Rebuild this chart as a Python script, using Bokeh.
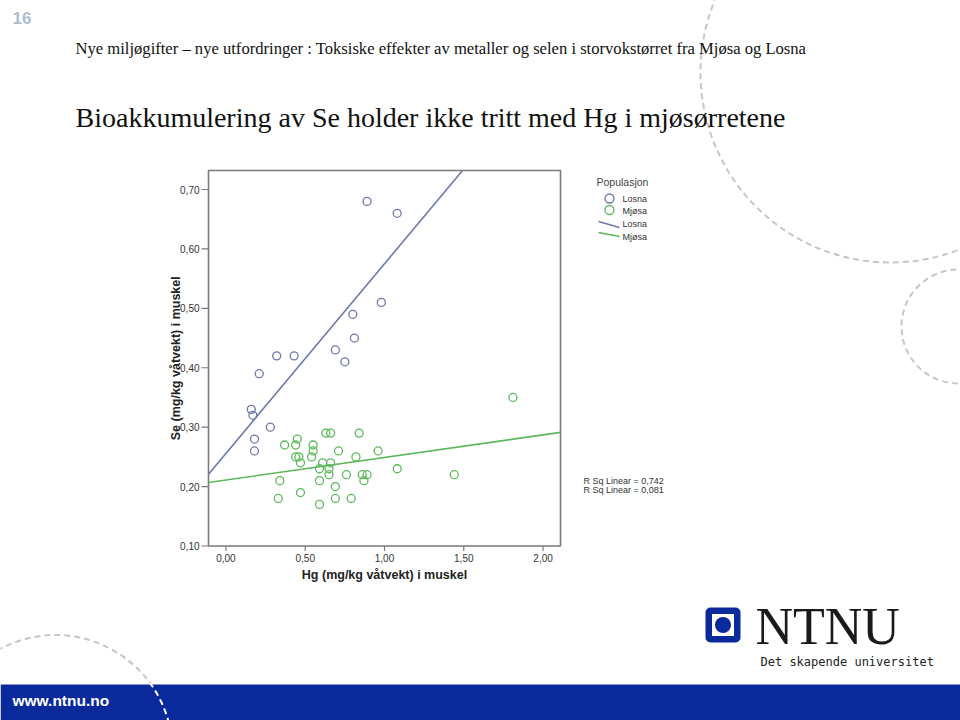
import numpy as np
from bokeh.plotting import figure
from bokeh.models import Range1d
from bokeh.core.properties import value
from bokeh.embed import file_html
from bokeh.resources import INLINE

# ---------------- data ----------------
LOSNA_HG = [0.89, 1.08, 0.98, 0.80, 0.81, 0.69, 0.75, 0.32, 0.43, 0.21, 0.16, 0.17, 0.28, 0.18, 0.18]
LOSNA_SE = [0.68, 0.66, 0.51, 0.49, 0.45, 0.43, 0.41, 0.42, 0.42, 0.39, 0.33, 0.32, 0.30, 0.28, 0.26]

MJOSA_HG = [1.81, 0.37, 0.45, 0.44, 0.55, 0.55, 0.54, 0.44, 0.46, 0.47, 0.63, 0.66, 0.84, 0.71,
            0.96, 0.82, 0.61, 0.66, 0.59, 0.65, 1.08, 1.44, 0.65, 0.76, 0.86, 0.89, 0.87, 0.59,
            0.34, 0.69, 0.33, 0.47, 0.69, 0.79, 0.59]
MJOSA_SE = [0.35, 0.27, 0.28, 0.27, 0.27, 0.26, 0.25, 0.25, 0.25, 0.24, 0.29, 0.29, 0.29, 0.26,
            0.26, 0.25, 0.24, 0.24, 0.23, 0.23, 0.23, 0.22, 0.22, 0.22, 0.22, 0.22, 0.21, 0.21,
            0.21, 0.20, 0.18, 0.19, 0.18, 0.18, 0.17]

FIT_NAMES = ["Losna", "Mjøsa"]
FIT_INTERCEPT = [0.256, 0.211]
FIT_SLOPE = [0.319, 0.038]
R2_TEXT = ["R Sq Linear = 0,742", "R Sq Linear = 0,081"]

X_TICKS = [0.0, 0.5, 1.0, 1.5, 2.0]
X_TICK_LABELS = ["0,00", "0,50", "1,00", "1,50", "2,00"]
Y_TICKS = [0.1, 0.2, 0.3, 0.4, 0.5, 0.6, 0.7]
Y_TICK_LABELS = ["0,10", "0,20", "0,30", "0,40", "0,50", "0,60", "0,70"]

X_TITLE = "Hg (mg/kg våtvekt) i muskel"
Y_TITLE = "Se (mg/kg våtvekt) i muskel"
LEGEND_TITLE = "Populasjon"
SLIDE_NO = "16"
SUBTITLE = "Nye miljøgifter – nye utfordringer : Toksiske effekter av metaller og selen i storvokstørret fra Mjøsa og Losna"
TITLE = "Bioakkumulering av Se holder ikke tritt med Hg i mjøsørretene"
FOOTER = "www.ntnu.no"
LOGO_TEXT = "NTNU"
LOGO_SUB = "Det skapende universitet"

# ---------------- layout / style ----------------
W, H = 960, 720
PX0, PX1, PY0, PY1 = 208, 560, 170, 545.5
HG_MIN, HG_MAX = -0.11, 2.11
SE_MIN, SE_MAX = 0.10, 0.732

C_LOSNA = "#6e78aa"
C_MJOSA = "#5cb85c"
C_AXIS = "#7a7a7a"
C_TXT = "#333333"
C_DECO = "#c6c6c6"
C_BLUE = "#0a2a9c"
SANS = value("Liberation Sans")
SERIF = value("Liberation Serif")

sx = (HG_MAX - HG_MIN) / (PX1 - PX0)
sy = (SE_MAX - SE_MIN) / (PY1 - PY0)

p = figure(width=W, height=H, output_backend="svg", toolbar_location=None,
           x_range=Range1d(0, W), y_range=Range1d(H, 0),
           x_axis_location=None, y_axis_location=None, min_border=0)
p.grid.visible = False
p.outline_line_color = None
p.background_fill_color = "white"
p.border_fill_color = "white"
p.extra_x_ranges = {"hg": Range1d(HG_MIN - PX0 * sx, HG_MAX + (W - PX1) * sx)}
p.extra_y_ranges = {"se": Range1d(SE_MIN - (H - PY1) * sy, SE_MAX + PY0 * sy)}

# decorative dashed arcs
p.circle(x=[890, 958, 55], y=[72, 326, 751.5], radius=[190, 57, 117],
         fill_color=None, line_color=C_DECO, line_width=2, line_dash="6 4")

# footer bar
p.quad(left=0, right=W, top=684, bottom=H, fill_color=C_BLUE, line_color=None)
t = np.linspace(np.radians(14), np.radians(36), 40)
p.line(x=55 + 117 * np.cos(t), y=751.5 - 117 * np.sin(t), line_color="white",
       line_width=2, line_dash="6 4")
p.text(x=[12], y=[700], text=[FOOTER], text_font=SANS, text_font_style="bold",
       text_font_size="15.5px", text_color="white", text_baseline="middle")

# header texts
p.text(x=[12], y=[17], text=[SLIDE_NO], text_font=SANS, text_font_style="bold",
       text_font_size="17px", text_color="#a9bfd1", text_baseline="middle")
p.text(x=[75], y=[47.5], text=[SUBTITLE], text_font=SERIF, text_font_size="16.6px",
       text_color="#111111", text_baseline="alphabetic")
p.text(x=[75], y=[116.5], text=[TITLE], text_font=SERIF, text_font_size="28px",
       text_color="#111111", text_baseline="alphabetic")

# plot frame
p.quad(left=HG_MIN, right=HG_MAX, bottom=SE_MIN, top=SE_MAX, x_range_name="hg",
       y_range_name="se", fill_color="white", line_color=C_AXIS, line_width=1.6)

# ticks and labels
p.segment(x0=PX0 - 7, x1=PX0, y0=Y_TICKS, y1=Y_TICKS, y_range_name="se",
          line_color=C_AXIS, line_width=1.2)
p.text(x=PX0 - 9, y=Y_TICKS, text=Y_TICK_LABELS, y_range_name="se", text_font=SANS,
       text_font_size="10px", text_color=C_TXT, text_align="right", text_baseline="middle")
p.segment(x0=X_TICKS, x1=X_TICKS, y0=PY1, y1=PY1 + 5, x_range_name="hg",
          line_color=C_AXIS, line_width=1.2)
p.text(x=X_TICKS, y=PY1 + 12, text=X_TICK_LABELS, x_range_name="hg", text_font=SANS,
       text_font_size="10px", text_color=C_TXT, text_align="center", text_baseline="middle")

# axis titles
p.text(x=[(PX0 + PX1) / 2], y=[574], text=[X_TITLE], text_font=SANS, text_font_style="bold",
       text_font_size="12.5px", text_color="#222222", text_align="center", text_baseline="middle")
p.text(x=[175], y=[(PY0 + PY1) / 2], text=[Y_TITLE], text_font=SANS, text_font_style="bold",
       text_font_size="12.5px", text_color="#222222", text_align="center",
       text_baseline="middle", angle=np.pi / 2)

# fit lines
for name, b, m, col in zip(FIT_NAMES, FIT_INTERCEPT, FIT_SLOPE, [C_LOSNA, C_MJOSA]):
    x0 = HG_MIN
    x1 = min(HG_MAX, (SE_MAX - b) / m)
    p.line(x=[x0, x1], y=[b + m * x0, b + m * x1], x_range_name="hg", y_range_name="se",
           line_color=col, line_width=1.6)

# points
p.scatter(x=LOSNA_HG, y=LOSNA_SE, marker="circle", size=8, fill_color=None,
          line_color=C_LOSNA, line_width=1.3, x_range_name="hg", y_range_name="se")
p.scatter(x=MJOSA_HG, y=MJOSA_SE, marker="circle", size=8, fill_color=None,
          line_color=C_MJOSA, line_width=1.3, x_range_name="hg", y_range_name="se")

# legend
p.text(x=[596], y=[181], text=[LEGEND_TITLE], text_font=SANS, text_font_size="10.5px",
       text_color="#444444", text_baseline="middle")
p.scatter(x=[609, 609], y=[198, 209.5], marker="circle", size=9, fill_color=None,
          line_color=[C_LOSNA, C_MJOSA], line_width=1.3)
p.segment(x0=[598, 598], y0=[221, 232], x1=[619, 619], y1=[227, 236],
          line_color=[C_LOSNA, C_MJOSA], line_width=1.5)
p.text(x=[622] * 4, y=[198, 210, 223, 236], text=FIT_NAMES + FIT_NAMES, text_font=SANS,
       text_font_size="9px", text_color="#333333", text_baseline="middle")

# R squared
p.text(x=[583, 583], y=[480, 489.5], text=R2_TEXT, text_font=SANS, text_font_size="9px",
       text_color="#333333", text_baseline="middle")

# NTNU logo
p.quad(left=705, right=740, top=607, bottom=642, fill_color=C_BLUE, line_color=None,
       border_radius=5)
p.quad(left=711.5, right=733.5, top=613.5, bottom=635.5, fill_color="white", line_color=None)
p.circle(x=[722.5], y=[624.5], radius=8, fill_color=C_BLUE, line_color=None)
p.text(x=[755], y=[626], text=[LOGO_TEXT], text_font=SERIF, text_font_size="52px",
       text_color="#1a1a1a", text_baseline="alphabetic")
p.text(x=[760], y=[661], text=[LOGO_SUB], text_font=value("DejaVu Sans Mono"),
       text_font_size="12px", text_color="#222222", text_baseline="alphabetic")

open("out.html", "w").write(file_html(p, INLINE))
